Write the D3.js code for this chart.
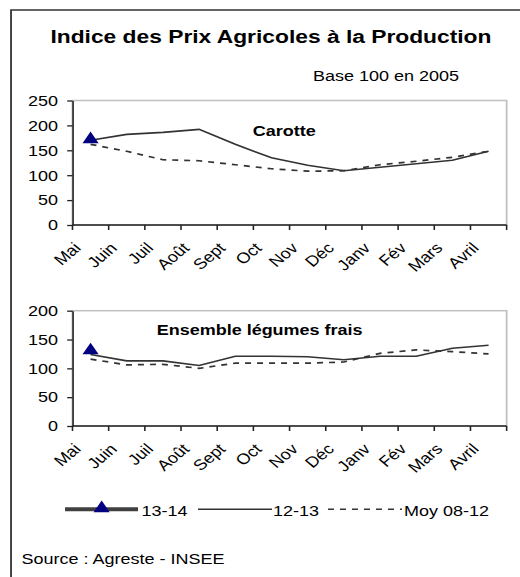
<!DOCTYPE html>
<html>
<head>
<meta charset="utf-8">
<script src="https://cdn.jsdelivr.net/npm/d3@7"></script>
<style>
  html, body { margin: 0; padding: 0; background: #fff; }
  svg { display: block; }
  text { font-family: "Liberation Sans", Arial, sans-serif; fill: #000; }
</style>
</head>
<body>
<svg id="chart"></svg>
<script>
// Month categories
var months = ["Mai", "Juin", "Juil", "Août", "Sept", "Oct", "Nov", "Déc", "Janv", "Fév", "Mars", "Avril"];

// Carotte
var carotte1314 = [172];
var carotte1213 = [170, 182, 186, 192, 162, 135, 120, 109, 116, 123, 130, 148];
var carotteMoy = [162, 148, 131, 129, 121, 113, 108, 109, 121, 128, 136, 148];

// Ensemble légumes frais
var legumes1314 = [131];
var legumes1213 = [124, 113, 113, 105, 121, 121, 120, 115, 121, 121, 135, 140];
var legumesMoy = [116, 106, 107, 100, 109, 109, 109, 111, 126, 132, 129, 125];

var carotteTicks = [0, 50, 100, 150, 200, 250];
var legumesTicks = [0, 50, 100, 150, 200];

var seriesNames = ["13-14", "12-13", "Moy 08-12"];

// the original picture is stretched horizontally: draw in a narrower space and scale x by 1.2
var SX = 1.2;
var W = 520 / SX, H = 577;
var root = d3.select("#chart")
    .attr("width", 520)
    .attr("height", 577);
var svg = root.append("g").attr("transform", "scale(" + SX + ",1)");

// measure glyph advances so rotated labels can be laid out glyph by glyph
var ctx = document.createElement("canvas").getContext("2d");
ctx.font = "15px 'Liberation Sans', Arial, sans-serif";
var C = Math.SQRT1_2;

function diagLabel(sel, px, py) {
    // text ending at (px, py), running up-right at 45 degrees
    sel.each(function(d) {
        var chars = Array.from(d);
        var adv = [], acc = 0;
        chars.forEach(function(ch) { adv.push(acc); acc += ctx.measureText(ch).width; });
        var sx = px(d) - acc * C, sy = py + acc * C;
        d3.select(this)
            .attr("x", adv.map(function(a) { return (sx + a * C).toFixed(2); }).join(" "))
            .attr("y", adv.map(function(a) { return (sy - a * C).toFixed(2); }).join(" "))
            .attr("rotate", chars.map(function() { return -45; }).join(" "))
            .text(d);
    });
}

// outer frame (only left & top visible)
svg.append("path")
    .attr("d", "M9.2," + (H + 10) + "V10H" + (W + 10))
    .attr("fill", "none")
    .attr("stroke", "#333")
    .attr("stroke-width", 1.5);

svg.append("text")
    .attr("x", 225.8).attr("y", 43)
    .attr("text-anchor", "middle")
    .style("font-size", "19px").style("font-weight", "bold")
    .text("Indice des Prix Agricoles à la Production");

svg.append("text")
    .attr("x", 260.8).attr("y", 81)
    .style("font-size", "15px")
    .text("Base 100 en 2005");

var x = d3.scaleBand().domain(months).range([60.4, 422.2]);

function drawPanel(opts) {
    var y = d3.scaleLinear().domain([0, opts.max]).range([opts.bottom, opts.top]);
    var g = svg.append("g");

    g.append("rect")
        .attr("x", x.range()[0]).attr("y", opts.top)
        .attr("width", x.range()[1] - x.range()[0])
        .attr("height", opts.bottom - opts.top)
        .attr("fill", "none")
        .attr("stroke", "#c0c0c0")
        .attr("stroke-width", 1.5);

    var yAxis = g.append("g")
        .attr("transform", "translate(" + x.range()[0] + ",0)")
        .call(d3.axisLeft(y).tickValues(opts.ticks).tickSizeInner(4.4).tickSizeOuter(0).tickPadding(7.7));
    yAxis.select(".domain").attr("stroke", "#222").attr("stroke-width", 1.3);
    yAxis.selectAll("line").attr("stroke", "#222").attr("stroke-width", 1.3);
    yAxis.selectAll("text").style("font-size", "15px").attr("fill", "#000")
        .style("font-family", "'Liberation Sans', Arial, sans-serif");

    g.append("line")
        .attr("x1", x.range()[0]).attr("x2", x.range()[1])
        .attr("y1", opts.bottom).attr("y2", opts.bottom)
        .attr("stroke", "#222").attr("stroke-width", 1.3);

    var bounds = months.map(function(m) { return x(m); }).concat([x.range()[1]]);
    g.selectAll(".xtick")
        .data(bounds)
        .enter().append("line")
        .attr("x1", function(d) { return d; })
        .attr("x2", function(d) { return d; })
        .attr("y1", opts.bottom)
        .attr("y2", opts.bottom + 5)
        .attr("stroke", "#222")
        .attr("stroke-width", 1.3);

    // month labels, 45 degrees
    g.selectAll(".xlab")
        .data(months)
        .enter().append("text")
        .attr("class", "xlab")
        .style("font-size", "15px")
        .call(diagLabel, function(d) { return x(d) + x.bandwidth() / 2 - 7.2; }, opts.bottom + 24);

    var line = d3.line()
        .x(function(d, i) { return x(months[i]) + x.bandwidth() / 2; })
        .y(function(d) { return y(d); });

    g.append("path")
        .attr("d", line(opts.moy))
        .attr("fill", "none")
        .attr("stroke", "#333")
        .attr("stroke-width", 1.7)
        .attr("stroke-dasharray", "5,5");

    g.append("path")
        .attr("d", line(opts.prev))
        .attr("fill", "none")
        .attr("stroke", "#333")
        .attr("stroke-width", 1.6);

    g.append("path")
        .attr("d", line(opts.cur))
        .attr("fill", "none")
        .attr("stroke", "#404040")
        .attr("stroke-width", 4);

    g.selectAll(".tri")
        .data(opts.cur)
        .enter().append("path")
        .attr("d", d3.symbol(d3.symbolTriangle, 78))
        .attr("transform", function(d, i) {
            return "translate(" + (x(months[i]) + x.bandwidth() / 2) + "," + y(d) + ")";
        })
        .attr("fill", "#000080");

    g.append("text")
        .attr("x", opts.labelX).attr("y", opts.labelY)
        .style("font-size", "15px").style("font-weight", "bold")
        .text(opts.label);
}

drawPanel({
    max: 250, top: 100.5, bottom: 225, ticks: carotteTicks,
    cur: carotte1314, prev: carotte1213, moy: carotteMoy,
    label: "Carotte", labelX: 210.6, labelY: 136
});

drawPanel({
    max: 200, top: 310.7, bottom: 426, ticks: legumesTicks,
    cur: legumes1314, prev: legumes1213, moy: legumesMoy,
    label: "Ensemble légumes frais", labelX: 130.6, labelY: 335
});

// Legend
var legendY = 509.3;
var leg = svg.append("g");

leg.append("line")
    .attr("x1", 54.2).attr("x2", 115).attr("y1", legendY).attr("y2", legendY)
    .attr("stroke", "#404040").attr("stroke-width", 4);
leg.append("path")
    .attr("d", d3.symbol(d3.symbolTriangle, 78))
    .attr("transform", "translate(84.7," + (legendY - 1) + ")")
    .attr("fill", "#000080");
leg.append("text").attr("x", 118).attr("y", legendY + 7).style("font-size", "15px").text(seriesNames[0]);

leg.append("line")
    .attr("x1", 165).attr("x2", 226.7).attr("y1", legendY).attr("y2", legendY)
    .attr("stroke", "#333").attr("stroke-width", 1.5);
leg.append("text").attr("x", 227.5).attr("y", legendY + 7).style("font-size", "15px").text(seriesNames[1]);

leg.append("line")
    .attr("x1", 273.3).attr("x2", 335).attr("y1", legendY).attr("y2", legendY)
    .attr("stroke", "#333").attr("stroke-width", 1.5)
    .attr("stroke-dasharray", "5,5");
leg.append("text").attr("x", 336.7).attr("y", legendY + 7).style("font-size", "15px").text(seriesNames[2]);

svg.append("text")
    .attr("x", 18).attr("y", 564)
    .style("font-size", "15px")
    .text("Source : Agreste - INSEE");
</script>
</body>
</html>
